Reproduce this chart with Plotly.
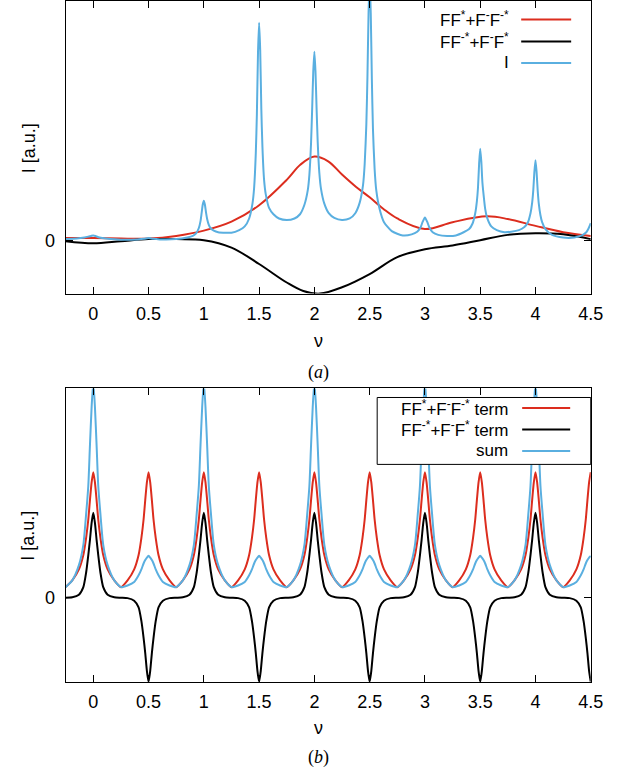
import plotly.graph_objects as go

# ---------------- panel (a) data ----------------
red_a_x = [-0.25, 0.0, 0.25, 0.5, 0.75, 1.0, 1.25, 1.5, 1.75, 1.875, 2.0, 2.125, 2.25, 2.375, 2.5, 2.625, 2.75, 3.0, 3.25, 3.56, 3.75, 4.0, 4.25, 4.5]
red_a_y = [0.05, 0.05, 0.04, 0.04, 0.09, 0.19, 0.36, 0.67, 1.15, 1.44, 1.59, 1.50, 1.25, 1.02, 0.82, 0.60, 0.42, 0.22, 0.35, 0.46, 0.41, 0.28, 0.16, 0.09]

black_a_x = [-0.25, 0.0, 0.25, 0.5, 0.75, 1.0, 1.25, 1.5, 1.75, 1.9, 2.05, 2.25, 2.5, 2.75, 3.0, 3.25, 3.5, 3.75, 4.0, 4.25, 4.5]
black_a_y = [-0.01, -0.05, -0.01, 0.03, 0.03, 0.01, -0.13, -0.44, -0.79, -0.95, -1.0, -0.88, -0.63, -0.31, -0.16, -0.09, 0.01, 0.11, 0.14, 0.12, 0.03]

blue_a_x = [-0.25, -0.15, -0.08, -0.04, -0.02, 0.0, 0.02, 0.04, 0.08, 0.15, 0.25,
            0.40, 0.46, 0.50, 0.54, 0.60, 0.75, 0.85, 0.90, 0.93, 0.955, 0.97, 0.98, 0.99,
            1.00, 1.01, 1.02, 1.03, 1.045, 1.06, 1.09, 1.13, 1.20, 1.25,
            1.32, 1.37, 1.41, 1.44, 1.455, 1.47, 1.48, 1.49, 1.50, 1.51, 1.52, 1.53, 1.545, 1.56, 1.59, 1.63, 1.68, 1.75,
            1.82, 1.87, 1.91, 1.94, 1.955, 1.97, 1.98, 1.99, 2.00, 2.01, 2.02, 2.03, 2.045, 2.06, 2.09, 2.13, 2.18, 2.25,
            2.32, 2.37, 2.41, 2.44, 2.455, 2.47, 2.48, 2.49, 2.50, 2.51, 2.52, 2.53, 2.545, 2.56, 2.59, 2.63, 2.70, 2.80,
            2.88, 2.93, 2.96, 2.98, 3.00, 3.02, 3.04, 3.07, 3.12, 3.20, 3.28,
            3.35, 3.40, 3.43, 3.455, 3.47, 3.48, 3.49, 3.50, 3.51, 3.52, 3.53, 3.545, 3.56, 3.60, 3.65, 3.72, 3.78,
            3.85, 3.90, 3.93, 3.955, 3.97, 3.98, 3.99, 4.00, 4.01, 4.02, 4.03, 4.045, 4.06, 4.09, 4.15, 4.25,
            4.35, 4.42, 4.46, 4.48, 4.50]
blue_a_y = [0.03, 0.04, 0.06, 0.08, 0.09, 0.10, 0.09, 0.07, 0.05, 0.03, 0.02,
            0.025, 0.035, 0.05, 0.035, 0.025, 0.03, 0.06, 0.09, 0.14, 0.24, 0.37, 0.52, 0.68,
            0.755, 0.68, 0.53, 0.41, 0.30, 0.24, 0.19, 0.16, 0.15, 0.15,
            0.20, 0.27, 0.42, 0.70, 1.00, 1.65, 2.40, 3.55, 4.12, 3.60, 2.50, 1.78, 1.15, 0.88, 0.62, 0.50, 0.42, 0.39,
            0.42, 0.50, 0.68, 0.95, 1.25, 1.85, 2.50, 3.20, 3.57, 3.20, 2.50, 1.87, 1.28, 0.98, 0.70, 0.52, 0.43, 0.39,
            0.42, 0.52, 0.72, 1.05, 1.45, 2.20, 3.10, 4.30, 4.90, 4.30, 3.05, 2.10, 1.35, 0.95, 0.60, 0.35, 0.18, 0.10,
            0.12, 0.17, 0.25, 0.36, 0.44, 0.36, 0.25, 0.16, 0.11, 0.09, 0.10,
            0.16, 0.22, 0.32, 0.52, 0.75, 1.00, 1.45, 1.74, 1.50, 1.10, 0.88, 0.60, 0.45, 0.27, 0.20, 0.16, 0.17,
            0.20, 0.26, 0.34, 0.52, 0.72, 0.95, 1.30, 1.52, 1.30, 0.95, 0.70, 0.48, 0.35, 0.22, 0.11, 0.06,
            0.06, 0.10, 0.16, 0.23, 0.33]

# ---------------- panel (b) data ----------------
x_b = [-0.25, -0.19, -0.13, -0.09, -0.065, -0.045, -0.03, -0.015,
       0.0, 0.015, 0.03, 0.045, 0.065, 0.09, 0.13, 0.19, 0.25, 0.31, 0.37, 0.41, 0.435, 0.455, 0.47, 0.485,
       0.5, 0.515, 0.53, 0.545, 0.565, 0.59, 0.63, 0.69, 0.75, 0.81, 0.87, 0.91, 0.935, 0.955, 0.97, 0.985,
       1.0, 1.015, 1.03, 1.045, 1.065, 1.09, 1.13, 1.19, 1.25, 1.31, 1.37, 1.41, 1.435, 1.455, 1.47, 1.485,
       1.5, 1.515, 1.53, 1.545, 1.565, 1.59, 1.63, 1.69, 1.75, 1.81, 1.87, 1.91, 1.935, 1.955, 1.97, 1.985,
       2.0, 2.015, 2.03, 2.045, 2.065, 2.09, 2.13, 2.19, 2.25, 2.31, 2.37, 2.41, 2.435, 2.455, 2.47, 2.485,
       2.5, 2.515, 2.53, 2.545, 2.565, 2.59, 2.63, 2.69, 2.75, 2.81, 2.87, 2.91, 2.935, 2.955, 2.97, 2.985,
       3.0, 3.015, 3.03, 3.045, 3.065, 3.09, 3.13, 3.19, 3.25, 3.31, 3.37, 3.41, 3.435, 3.455, 3.47, 3.485,
       3.5, 3.515, 3.53, 3.545, 3.565, 3.59, 3.63, 3.69, 3.75, 3.81, 3.87, 3.91, 3.935, 3.955, 3.97, 3.985,
       4.0, 4.015, 4.03, 4.045, 4.065, 4.09, 4.13, 4.19, 4.25, 4.31, 4.37, 4.41, 4.435, 4.455, 4.47, 4.485,
       4.5]

red_b = [0.12, 0.20, 0.33, 0.50, 0.70, 0.92, 1.15, 1.36,
         1.48, 1.36, 1.15, 0.92, 0.70, 0.50, 0.33, 0.20, 0.12, 0.20, 0.33, 0.50, 0.70, 0.92, 1.15, 1.36,
         1.48, 1.36, 1.15, 0.92, 0.70, 0.50, 0.33, 0.20, 0.12, 0.20, 0.33, 0.50, 0.70, 0.92, 1.15, 1.36,
         1.48, 1.36, 1.15, 0.92, 0.70, 0.50, 0.33, 0.20, 0.12, 0.20, 0.33, 0.50, 0.70, 0.92, 1.15, 1.36,
         1.48, 1.36, 1.15, 0.92, 0.70, 0.50, 0.33, 0.20, 0.12, 0.20, 0.33, 0.50, 0.70, 0.92, 1.15, 1.36,
         1.48, 1.36, 1.15, 0.92, 0.70, 0.50, 0.33, 0.20, 0.12, 0.20, 0.33, 0.50, 0.70, 0.92, 1.15, 1.36,
         1.48, 1.36, 1.15, 0.92, 0.70, 0.50, 0.33, 0.20, 0.12, 0.20, 0.33, 0.50, 0.70, 0.92, 1.15, 1.36,
         1.48, 1.36, 1.15, 0.92, 0.70, 0.50, 0.33, 0.20, 0.12, 0.20, 0.33, 0.50, 0.70, 0.92, 1.15, 1.36,
         1.48, 1.36, 1.15, 0.92, 0.70, 0.50, 0.33, 0.20, 0.12, 0.20, 0.33, 0.50, 0.70, 0.92, 1.15, 1.36,
         1.48, 1.36, 1.15, 0.92, 0.70, 0.50, 0.33, 0.20, 0.12, 0.20, 0.33, 0.50, 0.70, 0.92, 1.15, 1.36,
         1.48]

black_b = [-0.005, 0.0, 0.03, 0.12, 0.29, 0.50, 0.68, 0.88,
           1.0, 0.88, 0.68, 0.50, 0.29, 0.12, 0.03, 0.0, -0.005, -0.01, -0.04, -0.12, -0.28, -0.48, -0.66, -0.87,
           -1.0, -0.87, -0.66, -0.48, -0.28, -0.12, -0.04, -0.01, -0.005, 0.0, 0.03, 0.12, 0.29, 0.50, 0.68, 0.88,
           1.0, 0.88, 0.68, 0.50, 0.29, 0.12, 0.03, 0.0, -0.005, -0.01, -0.04, -0.12, -0.28, -0.48, -0.66, -0.87,
           -1.0, -0.87, -0.66, -0.48, -0.28, -0.12, -0.04, -0.01, -0.005, 0.0, 0.03, 0.12, 0.29, 0.50, 0.68, 0.88,
           1.0, 0.88, 0.68, 0.50, 0.29, 0.12, 0.03, 0.0, -0.005, -0.01, -0.04, -0.12, -0.28, -0.48, -0.66, -0.87,
           -1.0, -0.87, -0.66, -0.48, -0.28, -0.12, -0.04, -0.01, -0.005, 0.0, 0.03, 0.12, 0.29, 0.50, 0.68, 0.88,
           1.0, 0.88, 0.68, 0.50, 0.29, 0.12, 0.03, 0.0, -0.005, -0.01, -0.04, -0.12, -0.28, -0.48, -0.66, -0.87,
           -1.0, -0.87, -0.66, -0.48, -0.28, -0.12, -0.04, -0.01, -0.005, 0.0, 0.03, 0.12, 0.29, 0.50, 0.68, 0.88,
           1.0, 0.88, 0.68, 0.50, 0.29, 0.12, 0.03, 0.0, -0.005, -0.01, -0.04, -0.12, -0.28, -0.48, -0.66, -0.87,
           -1.0]

blue_b = [0.12, 0.20, 0.38, 0.62, 0.98, 1.32, 1.80, 2.25,
          2.55, 2.25, 1.80, 1.32, 0.98, 0.62, 0.38, 0.20, 0.12, 0.14, 0.18, 0.26, 0.33, 0.40, 0.44, 0.47,
          0.49, 0.47, 0.44, 0.40, 0.33, 0.26, 0.18, 0.14, 0.12, 0.20, 0.38, 0.62, 0.98, 1.32, 1.80, 2.25,
          2.55, 2.25, 1.80, 1.32, 0.98, 0.62, 0.38, 0.20, 0.12, 0.14, 0.18, 0.26, 0.33, 0.40, 0.44, 0.47,
          0.49, 0.47, 0.44, 0.40, 0.33, 0.26, 0.18, 0.14, 0.12, 0.20, 0.38, 0.62, 0.98, 1.32, 1.80, 2.25,
          2.55, 2.25, 1.80, 1.32, 0.98, 0.62, 0.38, 0.20, 0.12, 0.14, 0.18, 0.26, 0.33, 0.40, 0.44, 0.47,
          0.49, 0.47, 0.44, 0.40, 0.33, 0.26, 0.18, 0.14, 0.12, 0.20, 0.38, 0.62, 0.98, 1.32, 1.80, 2.25,
          2.55, 2.25, 1.80, 1.32, 0.98, 0.62, 0.38, 0.20, 0.12, 0.14, 0.18, 0.26, 0.33, 0.40, 0.44, 0.47,
          0.49, 0.47, 0.44, 0.40, 0.33, 0.26, 0.18, 0.14, 0.12, 0.20, 0.38, 0.62, 0.98, 1.32, 1.80, 2.25,
          2.55, 2.25, 1.80, 1.32, 0.98, 0.62, 0.38, 0.20, 0.12, 0.14, 0.18, 0.26, 0.33, 0.40, 0.44, 0.47,
          0.49]

x_tick_vals = [0, 0.5, 1, 1.5, 2, 2.5, 3, 3.5, 4, 4.5]
x_tick_text = ["0", "0.5", "1", "1.5", "2", "2.5", "3", "3.5", "4", "4.5"]

legend_a = ["FF<sup>*</sup>+F<sup>-</sup>F<sup>-*</sup>", "FF<sup>-*</sup>+F<sup>-</sup>F<sup>*</sup>", "I"]
legend_b = ["FF<sup>*</sup>+F<sup>-</sup>F<sup>-*</sup> term", "FF<sup>-*</sup>+F<sup>-</sup>F<sup>*</sup> term", "sum"]

RED = "#dc2d1e"
BLACK = "#000000"
BLUE = "#5aafe0"
FONT = "Liberation Sans"
FS = 18
FS_LEG = 17
W, H = 640, 771

fig = go.Figure()
fig.add_trace(go.Scatter(x=red_a_x, y=red_a_y, mode="lines", line=dict(color=RED, width=2, shape="spline"), xaxis="x", yaxis="y"))
fig.add_trace(go.Scatter(x=black_a_x, y=black_a_y, mode="lines", line=dict(color=BLACK, width=2, shape="spline"), xaxis="x", yaxis="y"))
fig.add_trace(go.Scatter(x=blue_a_x, y=blue_a_y, mode="lines", line=dict(color=BLUE, width=2, shape="spline", smoothing=0.6), xaxis="x", yaxis="y"))
fig.add_trace(go.Scatter(x=x_b, y=red_b, mode="lines", line=dict(color=RED, width=2, shape="spline", smoothing=0.6), xaxis="x2", yaxis="y2"))
fig.add_trace(go.Scatter(x=x_b, y=black_b, mode="lines", line=dict(color=BLACK, width=2, shape="spline", smoothing=0.6), xaxis="x2", yaxis="y2"))
fig.add_trace(go.Scatter(x=x_b, y=blue_b, mode="lines", line=dict(color=BLUE, width=2, shape="spline", smoothing=0.6), xaxis="x2", yaxis="y2"))

xd = [67 / W, 603 / W]
axis_common = dict(showline=True, linecolor="black", linewidth=1, mirror="ticks", ticks="inside",
                   ticklen=7, tickcolor="black", tickwidth=1, showgrid=False, zeroline=False,
                   tickfont=dict(family=FONT, size=FS, color="black"))

fig.update_layout(
    width=W, height=H, margin=dict(l=0, r=0, t=0, b=0),
    paper_bgcolor="white", plot_bgcolor="white", showlegend=False,
    xaxis=dict(domain=xd, range=[-0.25, 4.5], tickvals=x_tick_vals, ticktext=x_tick_text,
               anchor="y", ticklabelstandoff=4, **axis_common),
    yaxis=dict(domain=[1 - 293 / H, 1.0], range=[-1.0, 4.53], tickvals=[0], ticktext=["0"],
               anchor="x", ticklabelstandoff=6, **axis_common),
    xaxis2=dict(domain=xd, range=[-0.25, 4.5], tickvals=x_tick_vals, ticktext=x_tick_text,
                anchor="y2", ticklabelstandoff=4, **axis_common),
    yaxis2=dict(domain=[1 - 681.7 / H, 1 - 388 / H], range=[-1.0, 2.47], tickvals=[0], ticktext=["0"],
                anchor="x2", ticklabelstandoff=6, **axis_common),
)

def py(p):
    return 1 - p / H

ann = []
shapes = []
# axis titles
for (yc, lab) in [(147, "I [a.u.]"), (535, "I [a.u.]")]:
    ann.append(dict(x=29 / W, y=py(yc), xref="paper", yref="paper", text=lab, showarrow=False,
                    xanchor="center", yanchor="middle",
                    textangle=-90, font=dict(family=FONT, size=FS, color="black")))
for (yc, lab) in [(340, "ν"), (728, "ν")]:
    ann.append(dict(x=325 / W, y=py(yc), xref="paper", yref="paper", text=lab, showarrow=False,
                    xanchor="center", yanchor="middle",
                    font=dict(family=FONT, size=FS, color="black")))
for (yc, lab) in [(372, "(<i>a</i>)"), (757, "(<i>b</i>)")]:
    ann.append(dict(x=325 / W, y=py(yc), xref="paper", yref="paper", text=lab, showarrow=False,
                    xanchor="center", yanchor="middle",
                    font=dict(family="Liberation Serif", size=18, color="black")))

# legend (a)
rows_a = [18.5, 40.5, 62]
for lab, col, yc in zip(legend_a, [RED, BLACK, BLUE], rows_a):
    ann.append(dict(x=522 / W, y=py(yc), xref="paper", yref="paper", text=lab, showarrow=False,
                    xanchor="right", yanchor="middle", font=dict(family=FONT, size=FS_LEG, color="black")))
    shapes.append(dict(type="line", xref="paper", yref="paper", x0=532 / W, x1=583 / W, y0=py(yc), y1=py(yc),
                       line=dict(color=col, width=2), layer="above"))

# legend (b) with box
shapes.append(dict(type="rect", xref="paper", yref="paper", x0=385 / W, x1=603 / W, y0=py(464), y1=py(397),
                   line=dict(color="black", width=1), fillcolor="white", layer="above"))
rows_b = [407.5, 429, 450.5]
for lab, col, yc in zip(legend_b, [RED, BLACK, BLUE], rows_b):
    ann.append(dict(x=521 / W, y=py(yc), xref="paper", yref="paper", text=lab, showarrow=False,
                    xanchor="right", yanchor="middle", font=dict(family=FONT, size=FS_LEG, color="black")))
    shapes.append(dict(type="line", xref="paper", yref="paper", x0=533 / W, x1=582 / W, y0=py(yc), y1=py(yc),
                       line=dict(color=col, width=2), layer="above"))

fig.update_layout(annotations=ann, shapes=shapes)

post = ("document.documentElement.style.overflow='hidden';"
        "document.body.style.overflow='hidden';"
        "document.body.style.margin='0';document.body.style.padding='0';")
fig.write_html("out.html", config={"displayModeBar": False}, post_script=post)
